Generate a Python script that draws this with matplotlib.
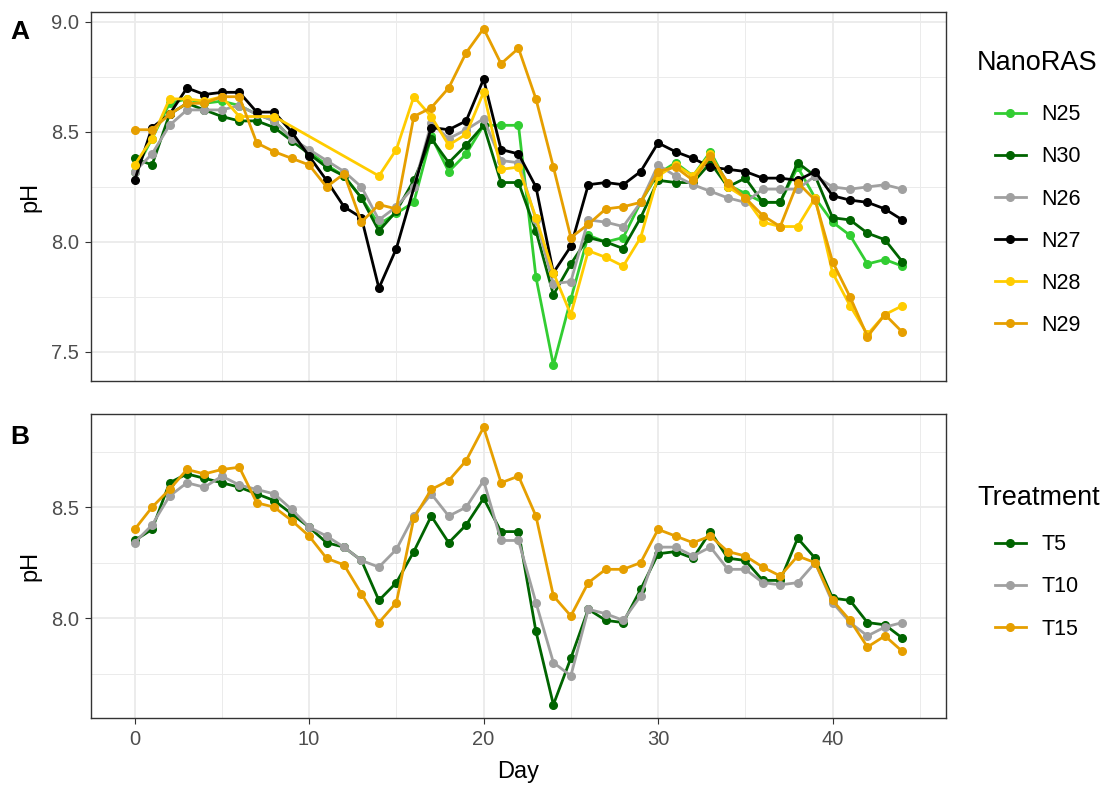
import numpy as np
import pandas as pd
import matplotlib
matplotlib.use("Agg")
import matplotlib.pyplot as plt
from matplotlib.lines import Line2D

plt.rcParams['font.family'] = ['Liberation Sans', 'DejaVu Sans']

day = list(range(45))
NA = None

# panel A: pH per NanoRAS unit
N25 = [8.32, 8.47, 8.63, 8.65, 8.63, 8.64, 8.62, 8.58, 8.55, 8.47, 8.41, 8.35, 8.30, 8.20, 8.08,
       8.13, 8.18, 8.48, 8.32, 8.40, 8.53, 8.53, 8.53, 7.84, 7.44, 7.74, 8.03, 8.00, 8.02, 8.18,
       8.31, 8.36, 8.30, 8.41, 8.26, 8.22, 8.18, 8.18, 8.34, 8.20, 8.09, 8.03, 7.90, 7.92, 7.89]
N30 = [8.38, 8.35, 8.58, 8.63, 8.60, 8.57, 8.55, 8.55, 8.52, 8.46, 8.40, 8.34, 8.30, 8.20, 8.05,
       8.14, 8.28, 8.47, 8.36, 8.44, 8.53, 8.27, 8.27, 8.05, 7.76, 7.90, 8.02, 8.00, 7.97, 8.11,
       8.28, 8.27, 8.27, 8.36, 8.25, 8.29, 8.18, 8.18, 8.36, 8.30, 8.11, 8.10, 8.04, 8.01, 7.91]
N26 = [8.32, 8.40, 8.53, 8.60, 8.60, 8.60, 8.62, 8.58, 8.55, 8.47, 8.42, 8.37, 8.32, 8.25, 8.10,
       8.16, 8.25, 8.54, 8.47, 8.51, 8.56, 8.37, 8.36, 8.10, 7.81, 7.82, 8.10, 8.09, 8.07, 8.18,
       8.35, 8.30, 8.26, 8.23, 8.20, 8.18, 8.24, 8.24, 8.24, 8.30, 8.25, 8.24, 8.25, 8.26, 8.24]
N27 = [8.28, 8.52, 8.58, 8.70, 8.67, 8.68, 8.68, 8.59, 8.59, 8.50, 8.39, 8.28, 8.16, 8.11, 7.79,
       7.97, NA, 8.52, 8.51, 8.55, 8.74, 8.42, 8.40, 8.25, 7.86, 7.98, 8.26, 8.27, 8.26, 8.32,
       8.45, 8.41, 8.38, 8.34, 8.33, 8.32, 8.29, 8.29, 8.28, 8.32, 8.21, 8.19, 8.18, 8.15, 8.10]
N28 = [8.35, 8.47, 8.65, 8.65, 8.64, 8.66, 8.57, NA, 8.57, NA, NA, NA, NA, NA, 8.30,
       8.42, 8.66, 8.57, 8.44, 8.49, 8.68, 8.33, 8.34, 8.11, 7.86, 7.67, 7.96, 7.93, 7.89, 8.02,
       8.30, 8.35, 8.30, 8.40, 8.25, 8.20, 8.09, 8.07, 8.07, 8.20, 7.86, 7.71, 7.58, 7.67, 7.71]
N29 = [8.51, 8.51, 8.58, 8.63, 8.63, 8.66, 8.66, 8.45, 8.41, 8.38, 8.35, 8.25, 8.31, 8.09, 8.17,
       8.15, 8.57, 8.61, 8.70, 8.86, 8.97, 8.81, 8.88, 8.65, 8.34, 8.02, 8.08, 8.15, 8.16, 8.18,
       8.32, 8.34, 8.28, 8.39, 8.27, 8.20, 8.12, 8.07, 8.27, 8.19, 7.91, 7.75, 7.57, 7.67, 7.59]

# panel B: pH per treatment
T5 = [8.35, 8.40, 8.61, 8.65, 8.63, 8.61, 8.59, 8.56, 8.53, 8.47, 8.41, 8.34, 8.32, 8.26, 8.08,
      8.16, 8.30, 8.46, 8.34, 8.42, 8.54, 8.39, 8.39, 7.94, 7.61, 7.82, 8.04, 7.99, 7.98, 8.13,
      8.29, 8.30, 8.27, 8.39, 8.27, 8.26, 8.17, 8.17, 8.36, 8.27, 8.09, 8.08, 7.98, 7.97, 7.91]
T10 = [8.34, 8.42, 8.55, 8.61, 8.59, 8.64, 8.60, 8.58, 8.56, 8.49, 8.41, 8.37, 8.32, 8.26, 8.23,
       8.31, 8.46, 8.56, 8.46, 8.50, 8.62, 8.35, 8.35, 8.07, 7.80, 7.74, 8.04, 8.02, 7.99, 8.10,
       8.32, 8.32, 8.28, 8.32, 8.22, 8.22, 8.16, 8.15, 8.16, 8.25, 8.07, 7.98, 7.92, 7.96, 7.98]
T15 = [8.40, 8.50, 8.58, 8.67, 8.65, 8.67, 8.68, 8.52, 8.50, 8.44, 8.37, 8.27, 8.24, 8.11, 7.98,
       8.07, 8.45, 8.58, 8.62, 8.71, 8.86, 8.61, 8.64, 8.46, 8.10, 8.01, 8.16, 8.22, 8.22, 8.25,
       8.40, 8.37, 8.34, 8.37, 8.30, 8.28, 8.23, 8.19, 8.28, 8.25, 8.08, 7.99, 7.87, 7.92, 7.85]

nano_names = ["N25", "N30", "N26", "N27", "N28", "N29"]
nano_vals = [N25, N30, N26, N27, N28, N29]
nano_cols = ["#32CD32", "#006400", "#A0A0A0", "#000000", "#FFCC00", "#E69F00"]
trt_names = ["T5", "T10", "T15"]
trt_vals = [T5, T10, T15]
trt_cols = ["#006400", "#A0A0A0", "#E69F00"]

W, H = 1116, 789
fig = plt.figure(figsize=(W / 100, H / 100), dpi=100)
axA = fig.add_axes([91 / W, 1 - 381 / H, 855 / W, 369 / H])
axB = fig.add_axes([91 / W, 1 - 718 / H, 855 / W, 304 / H])

def style(ax, ylim, major, minor):
    ax.set_xlim(-2.5, 46.5)
    ax.set_ylim(*ylim)
    ax.set_xticks([0, 10, 20, 30, 40])
    ax.set_xticks([5, 15, 25, 35, 45], minor=True)
    ax.set_yticks(major)
    ax.set_yticks(minor, minor=True)
    ax.grid(True, which='major', color='#EBEBEB', lw=1.3)
    ax.grid(True, which='minor', color='#EBEBEB', lw=0.7)
    ax.set_axisbelow(True)
    for s in ax.spines.values():
        s.set_color('#333333')
        s.set_linewidth(1.0)
    ax.tick_params(which='major', length=4.5, color='#333333', labelsize=14.5,
                   labelcolor='#4D4D4D', pad=4)
    ax.tick_params(which='minor', length=0)
    ax.set_ylabel("pH", fontsize=17, labelpad=7)

def draw(ax, vals, names, cols):
    handles = []
    for v, n, c in zip(vals, names, cols):
        s = pd.Series(v, index=day, dtype=float).dropna()
        ax.plot(s.index, s.values, color=c, lw=2.0, marker='o', ms=5.5, zorder=3)
        handles.append(Line2D([], [], color=c, lw=2.0, marker='o', ms=5.5))
    return handles

hA = draw(axA, nano_vals, nano_names, nano_cols)
hB = draw(axB, trt_vals, trt_names, trt_cols)

style(axA, (7.368, 9.045), [7.5, 8.0, 8.5, 9.0], [7.75, 8.25, 8.75])
style(axB, (7.55, 8.92), [8.0, 8.5], [7.75, 8.25, 8.75])
axA.tick_params(axis='x', which='major', length=0, labelbottom=False)
axB.set_xlabel("Day", fontsize=17, labelpad=9)

for h, names, title, ty, ly in [(hA, nano_names, "NanoRAS", 63, 85), (hB, trt_names, "Treatment", 498, 515)]:
    fig.text(977 / W, 1 - ty / H, title, fontsize=19.5, va='center', ha='left')
    fig.legend(h, names, loc='upper left',
               bbox_to_anchor=(976 / W, 1 - ly / H), bbox_transform=fig.transFigure,
               frameon=False, fontsize=15.5, handlelength=1.4,
               handletextpad=0.75, labelspacing=0.98)

fig.text(10 / W, 1 - 32 / H, "A", fontsize=19, fontweight='bold', va='center')
fig.text(10 / W, 1 - 437 / H, "B", fontsize=19, fontweight='bold', va='center')

fig.savefig("out.png", dpi=100)
